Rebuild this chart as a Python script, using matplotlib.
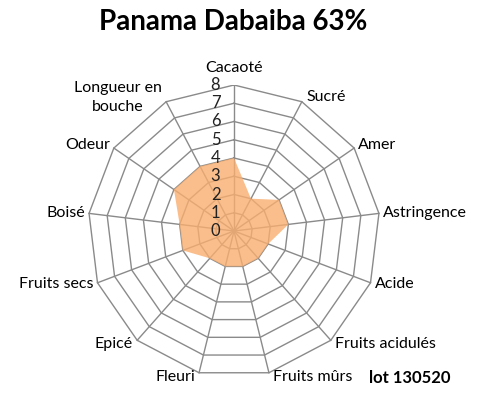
import numpy as np
import matplotlib
matplotlib.use("Agg")
import matplotlib.pyplot as plt

plt.rcParams['font.family'] = ['Lato', 'DejaVu Sans']

# Données
criteres = ['Cacaoté', 'Sucré', 'Amer', 'Astringence', 'Acide', 'Fruits acidulés',
            'Fruits mûrs', 'Fleuri', 'Epicé', 'Fruits secs', 'Boisé', 'Odeur',
            'Longueur en\nbouche']
notes = [4, 2, 3, 3, 2, 2, 2, 2, 2, 3, 3, 4, 4]
graduations = [0, 1, 2, 3, 4, 5, 6, 7, 8]
titre = 'Panama Dabaiba 63%'
lot = 'lot 130520'

n = len(criteres)
angles = np.pi / 2 - np.arange(n) * 2 * np.pi / n
cosa, sina = np.cos(angles), np.sin(angles)
rmax = graduations[-1]

fig = plt.figure(figsize=(5, 4.05), dpi=100)
R = 146
cx, cy = 234, 405 - 231
ax = fig.add_axes([(cx - R) / 500, (cy - R) / 405, 2 * R / 500, 2 * R / 405])
ax.set_xlim(-rmax, rmax)
ax.set_ylim(-rmax, rmax)
ax.axis('off')

gris = '#8a8a8a'

# Grille polygonale
for g in graduations[1:]:
    ax.plot(np.append(g * cosa, g * cosa[0]), np.append(g * sina, g * sina[0]),
            color=gris, lw=1.0, zorder=1)
for c, s in zip(cosa, sina):
    ax.plot([0, rmax * c], [0, rmax * s], color=gris, lw=1.0, zorder=1)

# Série remplie (légèrement transparente, la grille reste visible)
vx = np.array(notes) * cosa
vy = np.array(notes) * sina
ax.fill(vx, vy, color='#F9AE6F', alpha=0.8, lw=0, zorder=2)

# Graduations
for g in graduations:
    ax.text(-0.75, g, str(g), ha='right', va='center', fontsize=12,
            color='#222222', zorder=3)

# Étiquettes des critères
for lab, c, s in zip(criteres, cosa, sina):
    if abs(c) < 1e-6:
        ax.annotate(lab, (rmax * c, rmax * s), xytext=(0, 7), textcoords='offset points',
                    ha='center', va='bottom', fontsize=11.5, annotation_clip=False)
    else:
        ha = 'left' if c > 0 else 'right'
        ax.annotate(lab, (rmax * c, rmax * s), xytext=(3 * np.sign(c), 3.5 * s),
                    textcoords='offset points', ha=ha, va='center', fontsize=11.5,
                    multialignment='center', linespacing=1.4, annotation_clip=False)

fig.text(233 / 500, 1 - 22 / 405, titre, ha='center', va='center',
         fontsize=20, fontweight='bold')
fig.text(410 / 500, 1 - 378 / 405, lot, ha='center', va='center',
         fontsize=12, fontweight='bold')

fig.savefig('out.png', dpi=100)
